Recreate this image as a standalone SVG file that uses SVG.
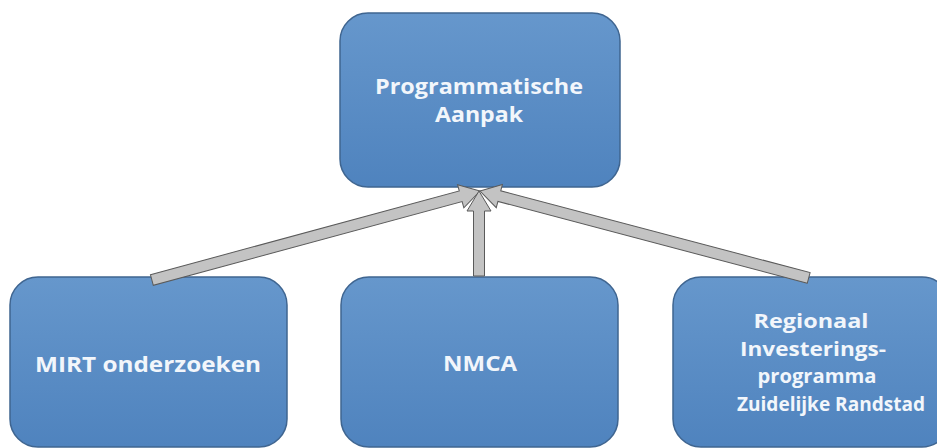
<svg xmlns="http://www.w3.org/2000/svg" width="937" height="448" viewBox="0 0 937 448">
  <defs>
    <linearGradient id="boxGrad" x1="0" y1="0" x2="0" y2="1">
      <stop offset="0" stop-color="#6697CC"/>
      <stop offset="1" stop-color="#4F83BE"/>
    </linearGradient>
    <style>
      .box { fill: url(#boxGrad); stroke: #3F6590; stroke-width: 1.5; }
      .lbl { font-family: "Open Sans", "DejaVu Sans", sans-serif; font-weight: 700; font-size: 21px; fill: #F2F6FB; text-anchor: middle; }
      .sm { font-size: 20px; }
      .arrow { fill: #C3C3C3; stroke: #5A5A5A; stroke-width: 1; stroke-linejoin: miter; }
    </style>
  </defs>
  <rect width="937" height="448" fill="#FFFFFF"/>

  <g id="node-programmatische-aanpak">
    <rect class="box" x="340" y="13" width="280" height="174" rx="28" ry="28"/>
    <text class="lbl" x="479" y="94" textLength="208" lengthAdjust="spacingAndGlyphs">Programmatische</text>
    <text class="lbl" x="479" y="122" textLength="88" lengthAdjust="spacingAndGlyphs">Aanpak</text>
  </g>

  <g id="node-mirt">
    <rect class="box" x="10" y="277" width="277" height="170" rx="28" ry="28"/>
    <text class="lbl" x="148" y="372" textLength="226" lengthAdjust="spacingAndGlyphs">MIRT onderzoeken</text>
  </g>

  <g id="node-nmca">
    <rect class="box" x="341" y="277" width="277" height="170" rx="28" ry="28"/>
    <text class="lbl" x="480" y="371" textLength="74" lengthAdjust="spacingAndGlyphs">NMCA</text>
  </g>

  <g id="node-regionaal">
    <rect class="box" x="673" y="277" width="277" height="170" rx="28" ry="28"/>
    <text class="lbl sm" x="811" y="328" textLength="115" lengthAdjust="spacingAndGlyphs">Regionaal</text>
    <text class="lbl sm" x="813" y="355.5" textLength="146" lengthAdjust="spacingAndGlyphs">Investerings-</text>
    <text class="lbl sm" x="817" y="383" textLength="119" lengthAdjust="spacingAndGlyphs">programma</text>
    <text class="lbl sm" x="831" y="410.5" textLength="188" lengthAdjust="spacingAndGlyphs">Zuidelijke Randstad</text>
  </g>

  <g id="connectors">
    <polygon class="arrow" transform="translate(480,191) rotate(-15.18)" points="-340,-5.5 -20,-5.5 -20,-12 0,0 -20,12 -20,5.5 -340,5.5"/>
    <polygon class="arrow" transform="translate(480,191) rotate(-165.19)" points="-340,-5.5 -20,-5.5 -20,-12 0,0 -20,12 -20,5.5 -340,5.5"/>
    <polygon class="arrow" transform="translate(479,191) rotate(-90)" points="-85,-5.5 -20,-5.5 -20,-12 0,0 -20,12 -20,5.5 -85,5.5"/>
  </g>
</svg>
